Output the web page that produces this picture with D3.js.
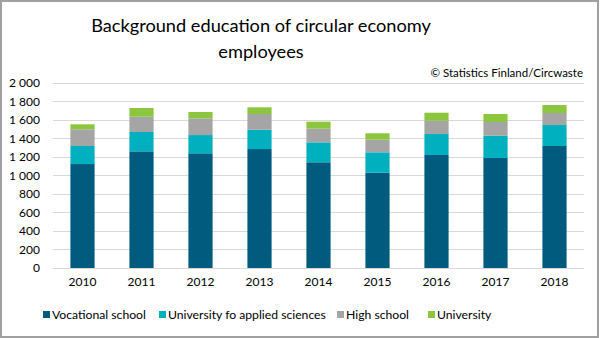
<!DOCTYPE html>
<html>
<head>
<meta charset="utf-8">
<script src="https://cdn.jsdelivr.net/npm/d3@7"></script>
<style>
  html, body { margin: 0; padding: 0; background: #fff; }
  svg { display: block; }
  text { font-family: Lato, "Open Sans", sans-serif; fill: #000; }
</style>
</head>
<body>
<svg id="chart" width="600" height="338"></svg>
<script>
const years = ["2010","2011","2012","2013","2014","2015","2016","2017","2018"];
const seriesNames = ["Vocational school","University fo applied sciences","High school","University"];
const vocational = [1122, 1259, 1238, 1284, 1141, 1029, 1220, 1187, 1317];
const appliedSciences = [195, 209, 197, 209, 215, 220, 226, 241, 226];
const highSchool = [180, 165, 180, 169, 148, 136, 144, 148, 130];
const university = [54, 94, 69, 72, 75, 69, 86, 86, 86];
const yTicks = [0, 200, 400, 600, 800, 1000, 1200, 1400, 1600, 1800, 2000];
const colors = ["#005b7f", "#00b0bf", "#a5a5a5", "#8cc63f"];

const svg = d3.select("#chart");
const W = 600, H = 338;

// border
svg.append("rect").attr("x", 1).attr("y", 1).attr("width", W - 3).attr("height", H - 2)
  .attr("fill", "#fff").attr("stroke", "#a0a0a0").attr("stroke-width", 2);

const table = years.map((y, i) => ({
  year: y,
  [seriesNames[0]]: vocational[i],
  [seriesNames[1]]: appliedSciences[i],
  [seriesNames[2]]: highSchool[i],
  [seriesNames[3]]: university[i]
}));
const stacked = d3.stack().keys(seriesNames)(table);

const x = d3.scaleBand().domain(years).range([53, 584]).paddingInner(0.59).paddingOuter(0.295);
const y = d3.scaleLinear().domain([0, 2000]).range([268, 82.7]);

// gridlines
svg.append("g").selectAll("line").data(yTicks).join("line")
  .attr("x1", 53).attr("x2", 584)
  .attr("y1", d => Math.round(y(d)) + 0.5).attr("y2", d => Math.round(y(d)) + 0.5)
  .attr("stroke", "#d9d9d9").attr("stroke-width", 1);

// bars
svg.append("g").selectAll("g").data(stacked).join("g")
  .attr("fill", (d, i) => colors[i])
  .selectAll("rect").data(d => d).join("rect")
  .attr("x", d => x(d.data.year))
  .attr("width", x.bandwidth())
  .attr("y", d => y(d[1]))
  .attr("height", d => y(d[0]) - y(d[1]));

// y axis labels
const fmt = v => d3.format(",")(v).replace(/,/g, " ");
const yAxis = d3.axisLeft(y).tickValues(yTicks).tickFormat(fmt).tickSize(0).tickPadding(0);
const gy = svg.append("g").attr("transform", "translate(40,0)").call(yAxis);
gy.select(".domain").remove();
gy.selectAll("text").attr("font-family", "Lato, 'Open Sans', sans-serif").attr("font-size", 12).attr("fill", "#000");

// x axis labels
const xAxis = d3.axisBottom(x).tickSize(0).tickPadding(0);
const gx = svg.append("g").attr("transform", "translate(0,277)").call(xAxis);
gx.select(".domain").remove();
gx.selectAll("text").attr("font-family", "Lato, 'Open Sans', sans-serif").attr("font-size", 12).attr("fill", "#000");

// title
const title = svg.append("text").attr("x", 261).attr("text-anchor", "middle").attr("font-size", 18.2);
title.append("tspan").attr("x", 261).attr("y", 31.5).text("Background education of circular economy");
title.append("tspan").attr("x", 261).attr("y", 58).text("employees");

// source
svg.append("text").attr("x", 583).attr("y", 77).attr("text-anchor", "end").attr("font-size", 11.5)
  .text("© Statistics Finland/Circwaste");

// legend
const legendX = [43, 159, 337, 428];
const lg = svg.append("g").selectAll("g").data(seriesNames).join("g")
  .attr("transform", (d, i) => `translate(${legendX[i]},315)`);
lg.append("rect").attr("x", 0).attr("y", -4).attr("width", 7).attr("height", 7)
  .attr("fill", (d, i) => colors[i]);
lg.append("text").attr("x", 9).attr("y", 0).attr("dy", "0.35em").attr("font-size", 12.2).text(d => d);
</script>
</body>
</html>
